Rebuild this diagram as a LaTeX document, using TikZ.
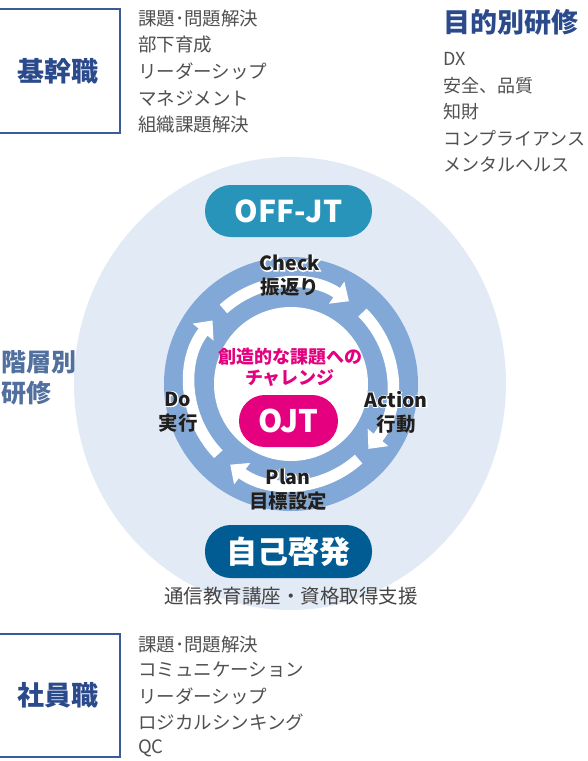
\documentclass[tikz,border=0pt]{standalone}
\usepackage{fontspec}
\setmainfont{Noto Sans CJK JP}
\usetikzlibrary{arrows.meta,calc}
\definecolor{bgcirc}{HTML}{E2EAF6}
\definecolor{ringc}{HTML}{82A8D8}
\definecolor{offjt}{HTML}{2994BA}
\definecolor{selfdev}{HTML}{005C93}
\definecolor{ojtc}{HTML}{E4007F}
\definecolor{navy}{HTML}{2B4A8C}
\definecolor{slate}{HTML}{52709E}
\definecolor{txt}{HTML}{505050}
\definecolor{boxc}{HTML}{3B5A98}
\newcommand\halolabel[3]{%
  \node[lbl,text=white] at (#1) {\addfontfeature{FakeBold=9}#3};%
  \node[lbl,text=black!88] (#2) at (#1) {#3};}
\begin{document}
\begin{tikzpicture}[x=1pt,y=-1pt,
  pill/.style={rounded corners=25.9pt, minimum height=52pt, text=white, font=\bfseries\fontsize{30}{30}\selectfont, inner sep=0pt},
  listtxt/.style={anchor=west, text=txt, font=\fontsize{18.5}{20}\selectfont, inner sep=0pt},
  rlisttxt/.style={anchor=west, text=txt, font=\fontsize{18}{20}\selectfont, inner sep=0pt},
  lbl/.style={align=center, font=\bfseries\fontsize{19.5}{24}\selectfont, inner sep=0pt},
  cyc/.style={white, line width=11.5pt, -{Triangle[width=26pt,length=15pt]}},
  catbox/.style={draw=boxc, line width=1.1pt, minimum width=125pt, minimum height=124pt, text=navy, font=\bfseries\fontsize{27}{27}\selectfont, inner sep=0pt}
]
\useasboundingbox (0,0) rectangle (588,761);

% background circle
\fill[bgcirc] (290,383.5) ellipse [x radius=216, y radius=226.5];

% top-left category
\node[catbox] (kikan) at (57.5,71) {基幹職};
\foreach \t [count=\i] in {課題･問題解決, 部下育成, リーダーシップ, マネジメント, 組織課題解決}
  \node[listtxt] (kl\i) at (138,{18+26.7*(\i-1)}) {\t};

% top-right
\node[anchor=west, inner sep=0pt, text=navy, font=\bfseries\fontsize{27}{27}\selectfont] (mokuteki) at (443,22.5) {目的別研修};
\foreach \t [count=\i] in {DX, 安全、品質, 知財, コンプライアンス, メンタルヘルス}
  \node[rlisttxt] (rl\i) at (443,{59+26.3*(\i-1)}) {\t};

% left label
\node[anchor=west, align=left, text=slate, font=\bfseries\fontsize{25}{31}\selectfont, inner sep=0pt] (kaiso) at (1,378) {階層別\\研修};

% OFF-JT
\node[pill, fill=offjt, minimum width=167pt] (off) at (288.5,211) {OFF-JT};

% ring
\fill[ringc] (291,384) circle[radius=127];
\fill[white] (291,384) circle[radius=77];

\begin{scope}[shift={(291,384)}, yscale=-1]
  \draw[cyc] (132:101) arc[start angle=132, end angle=55, radius=101];
  \draw[cyc] (45:101) arc[start angle=45, end angle=-40, radius=101];
  \draw[cyc] (-48:101) arc[start angle=-48, end angle=-127, radius=101];
  \draw[cyc] (-136:101) arc[start angle=-136, end angle=-219, radius=101];
\end{scope}

\halolabel{290,276}{check}{Check\\振返り}
\halolabel{396,412}{action}{Action\\行動}
\halolabel{178,412}{do}{Do\\実行}
\halolabel{288,490}{plan}{Plan\\目標設定}

% center
\node[text=ojtc, align=center, font=\bfseries\fontsize{18}{21}\selectfont, inner sep=0pt] (chal) at (290,367) {創造的な課題への\\チャレンジ};
\node[pill, fill=ojtc, minimum width=99pt, font=\bfseries\fontsize{31}{31}\selectfont] (ojt) at (288.5,421) {OJT};

% self development
\node[pill, fill=selfdev, minimum width=167pt, minimum height=53pt, font=\bfseries\fontsize{31}{31}\selectfont] (self) at (288.5,551.5) {自己啓発};
\node[text=txt!85!black, font=\fontsize{19.5}{20}\selectfont, inner sep=0pt] (supp) at (291,596) {通信教育講座・資格取得支援};

% bottom-left category
\node[catbox, minimum height=123pt] (shain) at (57.5,695.5) {社員職};
\foreach \t [count=\i] in {課題･問題解決, コミュニケーション, リーダーシップ, ロジカルシンキング, QC}
  \node[listtxt] (bl\i) at (138,{644+26*(\i-1)}) {\t};
\end{tikzpicture}
\end{document}
